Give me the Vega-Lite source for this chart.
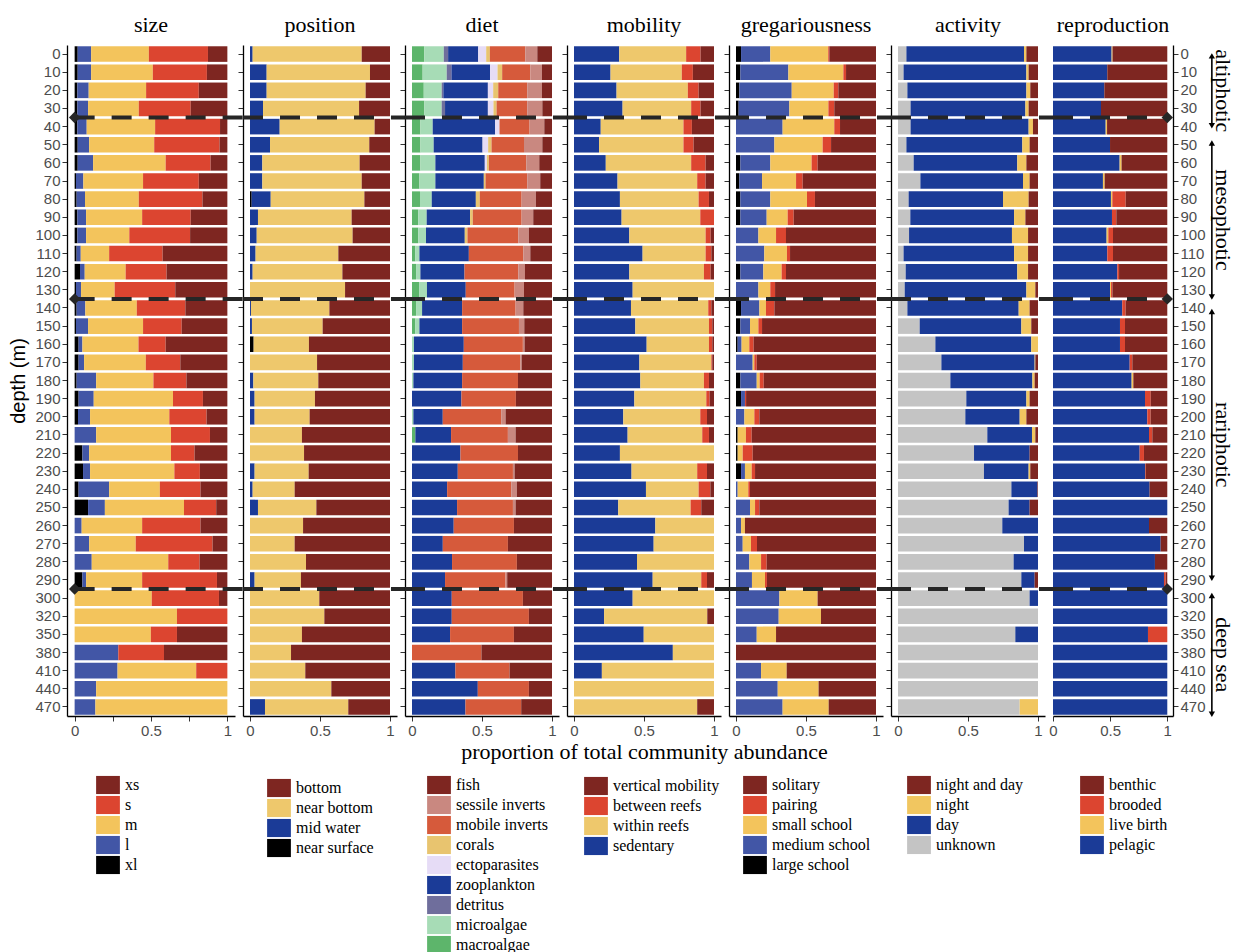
{
"$schema": "https://vega.github.io/schema/vega-lite/v6.json",
"background": "white",
"padding": {"left": 8, "top": 14, "right": 4, "bottom": 0},
"bounds": "flush",
"spacing": 8,
"resolve": {"scale": {"color": "independent"}, "legend": {"color": "independent"}},
"config": {
 "view": {"stroke": null},
 "font": "Liberation Serif",
 "axis": {"grid": false, "domainColor": "#000", "domainWidth": 1.3, "tickColor": "#333", "tickWidth": 1, "tickSize": 5, "labelFont": "Liberation Sans", "labelFontSize": 15, "labelColor": "#4d4d4d", "labelPadding": 2, "titleFont": "Liberation Serif", "titleFontSize": 22, "titleFontWeight": "normal", "titleColor": "#000"},
 "legend": {"labelFont": "Liberation Serif", "labelFontSize": 16, "labelColor": "#000", "symbolType": "M-1.22,-0.93H1.22V0.93H-1.22Z", "symbolSize": 380, "symbolStrokeWidth": 0, "symbolOpacity": 1, "rowPadding": -0.3, "labelOffset": 7, "padding": 0},
 "title": {"font": "Liberation Serif", "fontSize": 22, "fontWeight": "normal", "color": "#000", "anchor": "middle", "offset": 8}
},
"datasets": {
 "bounds": [{"b": 3.5}, {"b": 13.5}, {"b": 29.5}],
 "zones": [{"zone": "altiphotic", "from": 0.1, "to": 3.95}, {"zone": "mesophotic", "from": 4.9, "to": 13.4}, {"zone": "rariphotic", "from": 14.2, "to": 28.9}, {"zone": "deep sea", "from": 29.85, "to": 36.4}],
 "size": [
  {"d":0,"xl":0.02,"l":0.088,"m":0.378,"s":0.387,"xs":0.127},
  {"d":10,"xl":0.02,"l":0.088,"m":0.404,"s":0.354,"xs":0.134},
  {"d":20,"xl":0.018,"l":0.074,"m":0.376,"s":0.345,"xs":0.187},
  {"d":30,"xl":0.018,"l":0.07,"m":0.332,"s":0.34,"xs":0.24},
  {"d":40,"xl":0.018,"l":0.061,"m":0.448,"s":0.425,"xs":0.048},
  {"d":50,"xl":0.02,"l":0.075,"m":0.426,"s":0.428,"xs":0.051},
  {"d":60,"xl":0.02,"l":0.101,"m":0.475,"s":0.294,"xs":0.11},
  {"d":70,"xl":0.009,"l":0.048,"m":0.391,"s":0.365,"xs":0.187},
  {"d":80,"xl":0.013,"l":0.055,"m":0.352,"s":0.417,"xs":0.163},
  {"d":90,"xl":0.018,"l":0.057,"m":0.367,"s":0.318,"xs":0.24},
  {"d":100,"xl":0.018,"l":0.057,"m":0.283,"s":0.398,"xs":0.244},
  {"d":110,"xl":0.013,"l":0.027,"m":0.186,"s":0.35,"xs":0.424},
  {"d":120,"xl":0.035,"l":0.031,"m":0.268,"s":0.268,"xs":0.398},
  {"d":130,"xl":0.009,"l":0.033,"m":0.22,"s":0.397,"xs":0.341},
  {"d":140,"xl":0.013,"l":0.057,"m":0.337,"s":0.318,"xs":0.275},
  {"d":150,"xl":0.009,"l":0.079,"m":0.36,"s":0.253,"xs":0.299},
  {"d":160,"xl":0.026,"l":0.025,"m":0.367,"s":0.178,"xs":0.404},
  {"d":170,"xl":0.026,"l":0.036,"m":0.404,"s":0.226,"xs":0.308},
  {"d":180,"xl":0.013,"l":0.128,"m":0.375,"s":0.216,"xs":0.268},
  {"d":190,"xl":0.026,"l":0.099,"m":0.519,"s":0.196,"xs":0.16},
  {"d":200,"xl":0.022,"l":0.079,"m":0.519,"s":0.244,"xs":0.136},
  {"d":210,"xl":0,"l":0.141,"m":0.49,"s":0.255,"xs":0.114},
  {"d":220,"xl":0.051,"l":0.044,"m":0.536,"s":0.154,"xs":0.215},
  {"d":230,"xl":0.055,"l":0.046,"m":0.552,"s":0.167,"xs":0.18},
  {"d":240,"xl":0.026,"l":0.2,"m":0.332,"s":0.266,"xs":0.176},
  {"d":250,"xl":0.088,"l":0.11,"m":0.518,"s":0.211,"xs":0.073},
  {"d":260,"xl":0,"l":0.046,"m":0.396,"s":0.382,"xs":0.176},
  {"d":270,"xl":0,"l":0.095,"m":0.305,"s":0.503,"xs":0.097},
  {"d":280,"xl":0,"l":0.112,"m":0.501,"s":0.205,"xs":0.182},
  {"d":290,"xl":0.051,"l":0.024,"m":0.367,"s":0.49,"xs":0.068},
  {"d":300,"xl":0,"l":0,"m":0.505,"s":0.44,"xs":0.055},
  {"d":320,"xl":0,"l":0,"m":0.67,"s":0.33,"xs":0},
  {"d":350,"xl":0,"l":0,"m":0.499,"s":0.171,"xs":0.33},
  {"d":380,"xl":0,"l":0.286,"m":0,"s":0.299,"xs":0.415},
  {"d":410,"xl":0,"l":0.281,"m":0.515,"s":0.204,"xs":0},
  {"d":440,"xl":0,"l":0.141,"m":0.859,"s":0,"xs":0},
  {"d":470,"xl":0,"l":0.136,"m":0.864,"s":0,"xs":0}
 ],
 "position": [
  {"d":0,"near surface":0,"mid water":0.019,"near bottom":0.779,"bottom":0.202},
  {"d":10,"near surface":0,"mid water":0.119,"near bottom":0.738,"bottom":0.143},
  {"d":20,"near surface":0,"mid water":0.119,"near bottom":0.707,"bottom":0.174},
  {"d":30,"near surface":0,"mid water":0.093,"near bottom":0.686,"bottom":0.221},
  {"d":40,"near surface":0,"mid water":0.212,"near bottom":0.678,"bottom":0.11},
  {"d":50,"near surface":0,"mid water":0.143,"near bottom":0.709,"bottom":0.148},
  {"d":60,"near surface":0,"mid water":0.088,"near bottom":0.695,"bottom":0.217},
  {"d":70,"near surface":0,"mid water":0.088,"near bottom":0.71,"bottom":0.202},
  {"d":80,"near surface":0.012,"mid water":0.136,"near bottom":0.669,"bottom":0.183},
  {"d":90,"near surface":0,"mid water":0.057,"near bottom":0.669,"bottom":0.274},
  {"d":100,"near surface":0,"mid water":0.048,"near bottom":0.685,"bottom":0.267},
  {"d":110,"near surface":0,"mid water":0.04,"near bottom":0.591,"bottom":0.369},
  {"d":120,"near surface":0,"mid water":0.019,"near bottom":0.641,"bottom":0.34},
  {"d":130,"near surface":0,"mid water":0,"near bottom":0.679,"bottom":0.321},
  {"d":140,"near surface":0,"mid water":0.007,"near bottom":0.56,"bottom":0.433},
  {"d":150,"near surface":0,"mid water":0.014,"near bottom":0.505,"bottom":0.481},
  {"d":160,"near surface":0.026,"mid water":0,"near bottom":0.395,"bottom":0.579},
  {"d":170,"near surface":0,"mid water":0,"near bottom":0.479,"bottom":0.521},
  {"d":180,"near surface":0,"mid water":0.024,"near bottom":0.464,"bottom":0.512},
  {"d":190,"near surface":0,"mid water":0.033,"near bottom":0.431,"bottom":0.536},
  {"d":200,"near surface":0,"mid water":0.033,"near bottom":0.393,"bottom":0.574},
  {"d":210,"near surface":0,"mid water":0,"near bottom":0.371,"bottom":0.629},
  {"d":220,"near surface":0,"mid water":0,"near bottom":0.386,"bottom":0.614},
  {"d":230,"near surface":0,"mid water":0.033,"near bottom":0.386,"bottom":0.581},
  {"d":240,"near surface":0,"mid water":0.019,"near bottom":0.3,"bottom":0.681},
  {"d":250,"near surface":0,"mid water":0.057,"near bottom":0.417,"bottom":0.526},
  {"d":260,"near surface":0,"mid water":0,"near bottom":0.379,"bottom":0.621},
  {"d":270,"near surface":0,"mid water":0,"near bottom":0.319,"bottom":0.681},
  {"d":280,"near surface":0,"mid water":0,"near bottom":0.4,"bottom":0.6},
  {"d":290,"near surface":0,"mid water":0.033,"near bottom":0.331,"bottom":0.636},
  {"d":300,"near surface":0,"mid water":0,"near bottom":0.495,"bottom":0.505},
  {"d":320,"near surface":0,"mid water":0,"near bottom":0.531,"bottom":0.469},
  {"d":350,"near surface":0,"mid water":0,"near bottom":0.371,"bottom":0.629},
  {"d":380,"near surface":0,"mid water":0,"near bottom":0.293,"bottom":0.707},
  {"d":410,"near surface":0,"mid water":0,"near bottom":0.395,"bottom":0.605},
  {"d":440,"near surface":0,"mid water":0,"near bottom":0.581,"bottom":0.419},
  {"d":470,"near surface":0,"mid water":0.107,"near bottom":0.595,"bottom":0.298}
 ],
 "diet": [
  {"d":0,"macroalgae":0.088,"microalgae":0.139,"detritus":0.031,"zooplankton":0.215,"ectoparasites":0.057,"corals":0.026,"mobile inverts":0.253,"sessile inverts":0.086,"fish":0.105},
  {"d":10,"macroalgae":0.076,"microalgae":0.172,"detritus":0.034,"zooplankton":0.276,"ectoparasites":0.053,"corals":0.033,"mobile inverts":0.201,"sessile inverts":0.083,"fish":0.072},
  {"d":20,"macroalgae":0.084,"microalgae":0.128,"detritus":0.012,"zooplankton":0.318,"ectoparasites":0.038,"corals":0.036,"mobile inverts":0.207,"sessile inverts":0.105,"fish":0.072},
  {"d":30,"macroalgae":0.088,"microalgae":0.124,"detritus":0.024,"zooplankton":0.306,"ectoparasites":0.04,"corals":0.022,"mobile inverts":0.219,"sessile inverts":0.108,"fish":0.069},
  {"d":40,"macroalgae":0.06,"microalgae":0.088,"detritus":0,"zooplankton":0.446,"ectoparasites":0.031,"corals":0,"mobile inverts":0.215,"sessile inverts":0.105,"fish":0.055},
  {"d":50,"macroalgae":0.06,"microalgae":0.095,"detritus":0,"zooplankton":0.349,"ectoparasites":0.04,"corals":0.024,"mobile inverts":0.232,"sessile inverts":0.131,"fish":0.069},
  {"d":60,"macroalgae":0.06,"microalgae":0.107,"detritus":0,"zooplankton":0.353,"ectoparasites":0.015,"corals":0.014,"mobile inverts":0.267,"sessile inverts":0.093,"fish":0.091},
  {"d":70,"macroalgae":0.053,"microalgae":0.114,"detritus":0,"zooplankton":0.346,"ectoparasites":0,"corals":0.012,"mobile inverts":0.298,"sessile inverts":0.093,"fish":0.084},
  {"d":80,"macroalgae":0.057,"microalgae":0.084,"detritus":0,"zooplankton":0.315,"ectoparasites":0,"corals":0.028,"mobile inverts":0.299,"sessile inverts":0.102,"fish":0.115},
  {"d":90,"macroalgae":0.045,"microalgae":0.06,"detritus":0,"zooplankton":0.31,"ectoparasites":0,"corals":0.019,"mobile inverts":0.349,"sessile inverts":0.083,"fish":0.134},
  {"d":100,"macroalgae":0.045,"microalgae":0.055,"detritus":0,"zooplankton":0.277,"ectoparasites":0,"corals":0.019,"mobile inverts":0.363,"sessile inverts":0.076,"fish":0.165},
  {"d":110,"macroalgae":0.024,"microalgae":0.029,"detritus":0,"zooplankton":0.353,"ectoparasites":0,"corals":0,"mobile inverts":0.389,"sessile inverts":0.05,"fish":0.155},
  {"d":120,"macroalgae":0.029,"microalgae":0.031,"detritus":0,"zooplankton":0.315,"ectoparasites":0,"corals":0,"mobile inverts":0.384,"sessile inverts":0.048,"fish":0.193},
  {"d":130,"macroalgae":0.053,"microalgae":0.054,"detritus":0,"zooplankton":0.277,"ectoparasites":0,"corals":0,"mobile inverts":0.349,"sessile inverts":0.067,"fish":0.2},
  {"d":140,"macroalgae":0.029,"microalgae":0.043,"detritus":0,"zooplankton":0.286,"ectoparasites":0,"corals":0,"mobile inverts":0.382,"sessile inverts":0.055,"fish":0.205},
  {"d":150,"macroalgae":0.024,"microalgae":0.029,"detritus":0,"zooplankton":0.305,"ectoparasites":0,"corals":0,"mobile inverts":0.406,"sessile inverts":0.038,"fish":0.198},
  {"d":160,"macroalgae":0,"microalgae":0.014,"detritus":0,"zooplankton":0.356,"ectoparasites":0,"corals":0,"mobile inverts":0.422,"sessile inverts":0.012,"fish":0.196},
  {"d":170,"macroalgae":0,"microalgae":0.014,"detritus":0,"zooplankton":0.349,"ectoparasites":0,"corals":0,"mobile inverts":0.41,"sessile inverts":0.01,"fish":0.217},
  {"d":180,"macroalgae":0,"microalgae":0.01,"detritus":0,"zooplankton":0.348,"ectoparasites":0,"corals":0,"mobile inverts":0.399,"sessile inverts":0,"fish":0.243},
  {"d":190,"macroalgae":0,"microalgae":0,"detritus":0,"zooplankton":0.353,"ectoparasites":0,"corals":0,"mobile inverts":0.389,"sessile inverts":0,"fish":0.258},
  {"d":200,"macroalgae":0,"microalgae":0.01,"detritus":0,"zooplankton":0.21,"ectoparasites":0,"corals":0,"mobile inverts":0.418,"sessile inverts":0.031,"fish":0.332},
  {"d":210,"macroalgae":0.024,"microalgae":0,"detritus":0,"zooplankton":0.255,"ectoparasites":0,"corals":0,"mobile inverts":0.406,"sessile inverts":0.055,"fish":0.26},
  {"d":220,"macroalgae":0,"microalgae":0,"detritus":0,"zooplankton":0.346,"ectoparasites":0,"corals":0,"mobile inverts":0.411,"sessile inverts":0,"fish":0.243},
  {"d":230,"macroalgae":0,"microalgae":0,"detritus":0,"zooplankton":0.327,"ectoparasites":0,"corals":0,"mobile inverts":0.394,"sessile inverts":0.012,"fish":0.267},
  {"d":240,"macroalgae":0,"microalgae":0,"detritus":0,"zooplankton":0.251,"ectoparasites":0,"corals":0,"mobile inverts":0.458,"sessile inverts":0.04,"fish":0.251},
  {"d":250,"macroalgae":0,"microalgae":0,"detritus":0,"zooplankton":0.322,"ectoparasites":0,"corals":0,"mobile inverts":0.399,"sessile inverts":0.019,"fish":0.26},
  {"d":260,"macroalgae":0,"microalgae":0,"detritus":0,"zooplankton":0.298,"ectoparasites":0,"corals":0,"mobile inverts":0.43,"sessile inverts":0,"fish":0.272},
  {"d":270,"macroalgae":0,"microalgae":0,"detritus":0,"zooplankton":0.22,"ectoparasites":0,"corals":0,"mobile inverts":0.465,"sessile inverts":0,"fish":0.315},
  {"d":280,"macroalgae":0,"microalgae":0,"detritus":0,"zooplankton":0.286,"ectoparasites":0,"corals":0,"mobile inverts":0.463,"sessile inverts":0,"fish":0.251},
  {"d":290,"macroalgae":0,"microalgae":0,"detritus":0,"zooplankton":0.236,"ectoparasites":0,"corals":0,"mobile inverts":0.432,"sessile inverts":0.012,"fish":0.32},
  {"d":300,"macroalgae":0,"microalgae":0,"detritus":0,"zooplankton":0.284,"ectoparasites":0,"corals":0,"mobile inverts":0.508,"sessile inverts":0,"fish":0.208},
  {"d":320,"macroalgae":0,"microalgae":0,"detritus":0,"zooplankton":0.284,"ectoparasites":0,"corals":0,"mobile inverts":0.551,"sessile inverts":0,"fish":0.165},
  {"d":350,"macroalgae":0,"microalgae":0,"detritus":0,"zooplankton":0.272,"ectoparasites":0,"corals":0,"mobile inverts":0.456,"sessile inverts":0,"fish":0.272},
  {"d":380,"macroalgae":0,"microalgae":0,"detritus":0,"zooplankton":0,"ectoparasites":0,"corals":0,"mobile inverts":0.496,"sessile inverts":0,"fish":0.504},
  {"d":410,"macroalgae":0,"microalgae":0,"detritus":0,"zooplankton":0.31,"ectoparasites":0,"corals":0,"mobile inverts":0.387,"sessile inverts":0,"fish":0.303},
  {"d":440,"macroalgae":0,"microalgae":0,"detritus":0,"zooplankton":0.47,"ectoparasites":0,"corals":0,"mobile inverts":0.365,"sessile inverts":0,"fish":0.165},
  {"d":470,"macroalgae":0,"microalgae":0,"detritus":0,"zooplankton":0.382,"ectoparasites":0,"corals":0,"mobile inverts":0.398,"sessile inverts":0,"fish":0.22}
 ],
 "mobility": [
  {"d":0,"sedentary":0.323,"within reefs":0.478,"between reefs":0.103,"vertical mobility":0.096},
  {"d":10,"sedentary":0.261,"within reefs":0.509,"between reefs":0.079,"vertical mobility":0.151},
  {"d":20,"sedentary":0.304,"within reefs":0.509,"between reefs":0.077,"vertical mobility":0.11},
  {"d":30,"sedentary":0.347,"within reefs":0.49,"between reefs":0.067,"vertical mobility":0.096},
  {"d":40,"sedentary":0.191,"within reefs":0.591,"between reefs":0.06,"vertical mobility":0.158},
  {"d":50,"sedentary":0.179,"within reefs":0.603,"between reefs":0.072,"vertical mobility":0.146},
  {"d":60,"sedentary":0.227,"within reefs":0.61,"between reefs":0.103,"vertical mobility":0.06},
  {"d":70,"sedentary":0.311,"within reefs":0.569,"between reefs":0.06,"vertical mobility":0.06},
  {"d":80,"sedentary":0.328,"within reefs":0.562,"between reefs":0.074,"vertical mobility":0.036},
  {"d":90,"sedentary":0.34,"within reefs":0.562,"between reefs":0.098,"vertical mobility":0},
  {"d":100,"sedentary":0.395,"within reefs":0.545,"between reefs":0.036,"vertical mobility":0.024},
  {"d":110,"sedentary":0.49,"within reefs":0.45,"between reefs":0.041,"vertical mobility":0.019},
  {"d":120,"sedentary":0.395,"within reefs":0.533,"between reefs":0.048,"vertical mobility":0.024},
  {"d":130,"sedentary":0.419,"within reefs":0.581,"between reefs":0,"vertical mobility":0},
  {"d":140,"sedentary":0.407,"within reefs":0.552,"between reefs":0.022,"vertical mobility":0.019},
  {"d":150,"sedentary":0.438,"within reefs":0.526,"between reefs":0.024,"vertical mobility":0.012},
  {"d":160,"sedentary":0.519,"within reefs":0.445,"between reefs":0.024,"vertical mobility":0.012},
  {"d":170,"sedentary":0.467,"within reefs":0.514,"between reefs":0.007,"vertical mobility":0.012},
  {"d":180,"sedentary":0.474,"within reefs":0.454,"between reefs":0.036,"vertical mobility":0.036},
  {"d":190,"sedentary":0.431,"within reefs":0.514,"between reefs":0.024,"vertical mobility":0.031},
  {"d":200,"sedentary":0.352,"within reefs":0.55,"between reefs":0.048,"vertical mobility":0.05},
  {"d":210,"sedentary":0.383,"within reefs":0.533,"between reefs":0.048,"vertical mobility":0.036},
  {"d":220,"sedentary":0.328,"within reefs":0.672,"between reefs":0,"vertical mobility":0},
  {"d":230,"sedentary":0.411,"within reefs":0.469,"between reefs":0.07,"vertical mobility":0.05},
  {"d":240,"sedentary":0.514,"within reefs":0.376,"between reefs":0.084,"vertical mobility":0.026},
  {"d":250,"sedentary":0.316,"within reefs":0.517,"between reefs":0.076,"vertical mobility":0.091},
  {"d":260,"sedentary":0.581,"within reefs":0.419,"between reefs":0,"vertical mobility":0},
  {"d":270,"sedentary":0.569,"within reefs":0.431,"between reefs":0,"vertical mobility":0},
  {"d":280,"sedentary":0.45,"within reefs":0.55,"between reefs":0,"vertical mobility":0},
  {"d":290,"sedentary":0.562,"within reefs":0.347,"between reefs":0.041,"vertical mobility":0.05},
  {"d":300,"sedentary":0.419,"within reefs":0.581,"between reefs":0,"vertical mobility":0},
  {"d":320,"sedentary":0.215,"within reefs":0.737,"between reefs":0,"vertical mobility":0.048},
  {"d":350,"sedentary":0.498,"within reefs":0.502,"between reefs":0,"vertical mobility":0},
  {"d":380,"sedentary":0.706,"within reefs":0.294,"between reefs":0,"vertical mobility":0},
  {"d":410,"sedentary":0.199,"within reefs":0.801,"between reefs":0,"vertical mobility":0},
  {"d":440,"sedentary":0,"within reefs":1,"between reefs":0,"vertical mobility":0},
  {"d":470,"sedentary":0,"within reefs":0.88,"between reefs":0,"vertical mobility":0.12}
 ],
 "greg": [
  {"d":0,"large school":0.036,"medium school":0.209,"small school":0.414,"pairing":0.008,"solitary":0.333},
  {"d":10,"large school":0.031,"medium school":0.343,"small school":0.393,"pairing":0.019,"solitary":0.214},
  {"d":20,"large school":0.024,"medium school":0.374,"small school":0.3,"pairing":0.033,"solitary":0.269},
  {"d":30,"large school":0.019,"medium school":0.362,"small school":0.279,"pairing":0.042,"solitary":0.298},
  {"d":40,"large school":0,"medium school":0.333,"small school":0.369,"pairing":0.041,"solitary":0.257},
  {"d":50,"large school":0,"medium school":0.274,"small school":0.345,"pairing":0.06,"solitary":0.321},
  {"d":60,"large school":0.031,"medium school":0.214,"small school":0.295,"pairing":0.043,"solitary":0.417},
  {"d":70,"large school":0.024,"medium school":0.162,"small school":0.243,"pairing":0.047,"solitary":0.524},
  {"d":80,"large school":0.031,"medium school":0.214,"small school":0.262,"pairing":0.057,"solitary":0.436},
  {"d":90,"large school":0.031,"medium school":0.188,"small school":0.15,"pairing":0.043,"solitary":0.588},
  {"d":100,"large school":0,"medium school":0.16,"small school":0.126,"pairing":0.071,"solitary":0.643},
  {"d":110,"large school":0,"medium school":0.202,"small school":0.162,"pairing":0.022,"solitary":0.614},
  {"d":120,"large school":0.031,"medium school":0.164,"small school":0.131,"pairing":0.031,"solitary":0.643},
  {"d":130,"large school":0,"medium school":0.16,"small school":0.085,"pairing":0.034,"solitary":0.721},
  {"d":140,"large school":0.036,"medium school":0.131,"small school":0.047,"pairing":0.06,"solitary":0.726},
  {"d":150,"large school":0.031,"medium school":0.069,"small school":0.06,"pairing":0.026,"solitary":0.814},
  {"d":160,"large school":0.012,"medium school":0.028,"small school":0.055,"pairing":0.031,"solitary":0.874},
  {"d":170,"large school":0,"medium school":0.119,"small school":0.012,"pairing":0.017,"solitary":0.852},
  {"d":180,"large school":0.031,"medium school":0.117,"small school":0.021,"pairing":0.029,"solitary":0.802},
  {"d":190,"large school":0.036,"medium school":0.028,"small school":0,"pairing":0.008,"solitary":0.928},
  {"d":200,"large school":0,"medium school":0.06,"small school":0.071,"pairing":0.036,"solitary":0.833},
  {"d":210,"large school":0.012,"medium school":0,"small school":0.059,"pairing":0.041,"solitary":0.888},
  {"d":220,"large school":0.012,"medium school":0,"small school":0.036,"pairing":0.071,"solitary":0.881},
  {"d":230,"large school":0.036,"medium school":0.028,"small school":0.048,"pairing":0.024,"solitary":0.864},
  {"d":240,"large school":0,"medium school":0.012,"small school":0.076,"pairing":0.012,"solitary":0.9},
  {"d":250,"large school":0,"medium school":0.1,"small school":0.036,"pairing":0.031,"solitary":0.833},
  {"d":260,"large school":0,"medium school":0.036,"small school":0.028,"pairing":0,"solitary":0.936},
  {"d":270,"large school":0,"medium school":0.048,"small school":0.059,"pairing":0.043,"solitary":0.85},
  {"d":280,"large school":0,"medium school":0.095,"small school":0.084,"pairing":0.04,"solitary":0.781},
  {"d":290,"large school":0,"medium school":0.114,"small school":0.093,"pairing":0.014,"solitary":0.779},
  {"d":300,"large school":0,"medium school":0.31,"small school":0.273,"pairing":0,"solitary":0.417},
  {"d":320,"large school":0,"medium school":0.305,"small school":0.302,"pairing":0,"solitary":0.393},
  {"d":350,"large school":0,"medium school":0.148,"small school":0.138,"pairing":0,"solitary":0.714},
  {"d":380,"large school":0,"medium school":0,"small school":0,"pairing":0,"solitary":1},
  {"d":410,"large school":0,"medium school":0.179,"small school":0.183,"pairing":0,"solitary":0.638},
  {"d":440,"large school":0,"medium school":0.298,"small school":0.292,"pairing":0,"solitary":0.41},
  {"d":470,"large school":0,"medium school":0.333,"small school":0.329,"pairing":0,"solitary":0.338}
 ],
 "activity": [
  {"d":0,"unknown":0.06,"day":0.84,"night":0.017,"night and day":0.083},
  {"d":10,"unknown":0.04,"day":0.877,"night":0.016,"night and day":0.067},
  {"d":20,"unknown":0.067,"day":0.85,"night":0.028,"night and day":0.055},
  {"d":30,"unknown":0.09,"day":0.82,"night":0.023,"night and day":0.067},
  {"d":40,"unknown":0.09,"day":0.843,"night":0.031,"night and day":0.036},
  {"d":50,"unknown":0.06,"day":0.828,"night":0.052,"night and day":0.06},
  {"d":60,"unknown":0.112,"day":0.74,"night":0.065,"night and day":0.083},
  {"d":70,"unknown":0.16,"day":0.733,"night":0.047,"night and day":0.06},
  {"d":80,"unknown":0.076,"day":0.674,"night":0.183,"night and day":0.067},
  {"d":90,"unknown":0.088,"day":0.741,"night":0.081,"night and day":0.09},
  {"d":100,"unknown":0.079,"day":0.735,"night":0.115,"night and day":0.071},
  {"d":110,"unknown":0.04,"day":0.789,"night":0.1,"night and day":0.071},
  {"d":120,"unknown":0.055,"day":0.797,"night":0.077,"night and day":0.071},
  {"d":130,"unknown":0.048,"day":0.869,"night":0.064,"night and day":0.019},
  {"d":140,"unknown":0.067,"day":0.795,"night":0.078,"night and day":0.06},
  {"d":150,"unknown":0.155,"day":0.726,"night":0.071,"night and day":0.048},
  {"d":160,"unknown":0.267,"day":0.685,"night":0.048,"night and day":0},
  {"d":170,"unknown":0.31,"day":0.666,"night":0.005,"night and day":0.019},
  {"d":180,"unknown":0.374,"day":0.586,"night":0.016,"night and day":0.024},
  {"d":190,"unknown":0.488,"day":0.429,"night":0.023,"night and day":0.06},
  {"d":200,"unknown":0.481,"day":0.388,"night":0.048,"night and day":0.083},
  {"d":210,"unknown":0.638,"day":0.319,"night":0.024,"night and day":0.019},
  {"d":220,"unknown":0.543,"day":0.397,"night":0,"night and day":0.06},
  {"d":230,"unknown":0.614,"day":0.319,"night":0.012,"night and day":0.055},
  {"d":240,"unknown":0.81,"day":0.186,"night":0,"night and day":0.004},
  {"d":250,"unknown":0.79,"day":0.15,"night":0,"night and day":0.06},
  {"d":260,"unknown":0.745,"day":0.255,"night":0,"night and day":0},
  {"d":270,"unknown":0.9,"day":0.1,"night":0,"night and day":0},
  {"d":280,"unknown":0.826,"day":0.174,"night":0,"night and day":0},
  {"d":290,"unknown":0.881,"day":0.095,"night":0,"night and day":0.024},
  {"d":300,"unknown":0.94,"day":0.06,"night":0,"night and day":0},
  {"d":320,"unknown":1,"day":0,"night":0,"night and day":0},
  {"d":350,"unknown":0.838,"day":0.162,"night":0,"night and day":0},
  {"d":380,"unknown":1,"day":0,"night":0,"night and day":0},
  {"d":410,"unknown":1,"day":0,"night":0,"night and day":0},
  {"d":440,"unknown":1,"day":0,"night":0,"night and day":0},
  {"d":470,"unknown":0.869,"day":0,"night":0.131,"night and day":0}
 ],
 "repro": [
  {"d":0,"pelagic":0.513,"live birth":0.008,"brooded":0,"benthic":0.479},
  {"d":10,"pelagic":0.475,"live birth":0,"brooded":0,"benthic":0.525},
  {"d":20,"pelagic":0.449,"live birth":0,"brooded":0,"benthic":0.551},
  {"d":30,"pelagic":0.42,"live birth":0,"brooded":0,"benthic":0.58},
  {"d":40,"pelagic":0.461,"live birth":0.012,"brooded":0,"benthic":0.527},
  {"d":50,"pelagic":0.499,"live birth":0,"brooded":0,"benthic":0.501},
  {"d":60,"pelagic":0.583,"live birth":0.017,"brooded":0,"benthic":0.4},
  {"d":70,"pelagic":0.437,"live birth":0.015,"brooded":0,"benthic":0.548},
  {"d":80,"pelagic":0.507,"live birth":0.012,"brooded":0.117,"benthic":0.364},
  {"d":90,"pelagic":0.516,"live birth":0,"brooded":0.038,"benthic":0.446},
  {"d":100,"pelagic":0.469,"live birth":0.015,"brooded":0.041,"benthic":0.475},
  {"d":110,"pelagic":0.475,"live birth":0,"brooded":0.05,"benthic":0.475},
  {"d":120,"pelagic":0.563,"live birth":0,"brooded":0.015,"benthic":0.422},
  {"d":130,"pelagic":0.499,"live birth":0.009,"brooded":0.012,"benthic":0.48},
  {"d":140,"pelagic":0.606,"live birth":0,"brooded":0.029,"benthic":0.365},
  {"d":150,"pelagic":0.586,"live birth":0,"brooded":0.044,"benthic":0.37},
  {"d":160,"pelagic":0.586,"live birth":0,"brooded":0.044,"benthic":0.37},
  {"d":170,"pelagic":0.671,"live birth":0,"brooded":0.023,"benthic":0.306},
  {"d":180,"pelagic":0.688,"live birth":0.015,"brooded":0,"benthic":0.297},
  {"d":190,"pelagic":0.805,"live birth":0,"brooded":0.05,"benthic":0.145},
  {"d":200,"pelagic":0.825,"live birth":0,"brooded":0.029,"benthic":0.146},
  {"d":210,"pelagic":0.84,"live birth":0,"brooded":0.029,"benthic":0.131},
  {"d":220,"pelagic":0.758,"live birth":0,"brooded":0.038,"benthic":0.204},
  {"d":230,"pelagic":0.805,"live birth":0,"brooded":0.006,"benthic":0.189},
  {"d":240,"pelagic":0.845,"live birth":0,"brooded":0,"benthic":0.155},
  {"d":250,"pelagic":1,"live birth":0,"brooded":0,"benthic":0},
  {"d":260,"pelagic":0.84,"live birth":0,"brooded":0,"benthic":0.16},
  {"d":270,"pelagic":0.942,"live birth":0,"brooded":0,"benthic":0.058},
  {"d":280,"pelagic":0.892,"live birth":0,"brooded":0,"benthic":0.108},
  {"d":290,"pelagic":0.971,"live birth":0,"brooded":0.015,"benthic":0.014},
  {"d":300,"pelagic":1,"live birth":0,"brooded":0,"benthic":0},
  {"d":320,"pelagic":1,"live birth":0,"brooded":0,"benthic":0},
  {"d":350,"pelagic":0.831,"live birth":0,"brooded":0.169,"benthic":0},
  {"d":380,"pelagic":1,"live birth":0,"brooded":0,"benthic":0},
  {"d":410,"pelagic":1,"live birth":0,"brooded":0,"benthic":0},
  {"d":440,"pelagic":1,"live birth":0,"brooded":0,"benthic":0},
  {"d":470,"pelagic":1,"live birth":0,"brooded":0,"benthic":0}
 ]
},
"hconcat": [
 {
  "width": 168, "height": 671, "title": {"text": "size"},
  "resolve": {"scale": {"y": "independent"}},
  "layer": [
   {"data": {"name": "size"},
    "transform": [{"fold": ["xl","l","m","s","xs"], "as": ["k","v"]}, {"window": [{"op": "row_number", "as": "o"}], "groupby": ["d"]}],
    "mark": "bar",
    "encoding": {
     "y": {"field": "d", "type": "ordinal", "scale": {"domain": [0,10,20,30,40,50,60,70,80,90,100,110,120,130,140,150,160,170,180,190,200,210,220,230,240,250,260,270,280,290,300,320,350,380,410,440,470], "paddingInner": 0.14, "paddingOuter": 0.07}, "axis": {"title": "depth (m)", "titleFont": "Liberation Sans", "titleFontSize": 20, "titlePadding": 6}},
     "x": {"field": "v", "type": "quantitative", "stack": "normalize", "scale": {"domain": [-0.05, 1.05], "nice": false}, "axis": {"values": [0,0.25,0.5,0.75,1], "labelExpr": "datum.value==0.25||datum.value==0.75?'':format(datum.value,'~g')", "title": null, "labelFlush": false}},
     "color": {"field": "k", "type": "nominal", "scale": {"domain": ["xs","s","m","l","xl"], "range": ["#7e2621","#dc4530","#f3c45c","#4256a6","#000000"]}, "legend": {"orient": "none", "legendX": 31, "legendY": 730, "title": null}},
     "order": {"field": "o", "type": "quantitative"}
    }},
   {"data": {"name": "bounds"},
    "mark": {"type": "rule", "strokeDash": [20, 17], "strokeWidth": 4, "color": "#262626"},
    "encoding": {"y": {"field": "b", "type": "quantitative", "scale": {"domain": [-0.5, 36.5], "reverse": true, "nice": false, "zero": false}, "axis": null}, "x": {"datum": 0}, "x2": {"datum": 1.11}}},
   {"data": {"name": "bounds"},
    "mark": {"type": "point", "shape": "diamond", "filled": true, "size": 130, "color": "#262626", "opacity": 1},
    "encoding": {"y": {"field": "b", "type": "quantitative", "scale": {"domain": [-0.5, 36.5], "reverse": true, "nice": false, "zero": false}, "axis": null}, "x": {"datum": 0}}}
  ]
 },
 {
  "width": 154, "height": 671, "title": {"text": "position"},
  "resolve": {"scale": {"y": "independent"}},
  "layer": [
   {"data": {"name": "position"},
    "transform": [{"fold": ["near surface","mid water","near bottom","bottom"], "as": ["k","v"]}, {"window": [{"op": "row_number", "as": "o"}], "groupby": ["d"]}],
    "mark": "bar",
    "encoding": {
     "y": {"field": "d", "type": "ordinal", "scale": {"domain": [0,10,20,30,40,50,60,70,80,90,100,110,120,130,140,150,160,170,180,190,200,210,220,230,240,250,260,270,280,290,300,320,350,380,410,440,470], "paddingInner": 0.14, "paddingOuter": 0.07}, "axis": {"labels": false, "title": null}},
     "x": {"field": "v", "type": "quantitative", "stack": "normalize", "scale": {"domain": [-0.05, 1.05], "nice": false}, "axis": {"values": [0,0.25,0.5,0.75,1], "labelExpr": "datum.value==0.25||datum.value==0.75?'':format(datum.value,'~g')", "title": null, "labelFlush": false}},
     "color": {"field": "k", "type": "nominal", "scale": {"domain": ["bottom","near bottom","mid water","near surface"], "range": ["#7e2621","#eec86c","#1b3b97","#000000"]}, "legend": {"orient": "none", "legendX": 26, "legendY": 733, "title": null}},
     "order": {"field": "o", "type": "quantitative"}
    }},
   {"data": {"name": "bounds"},
    "mark": {"type": "rule", "strokeDash": [20, 17], "strokeWidth": 4, "color": "#262626"},
    "encoding": {"y": {"field": "b", "type": "quantitative", "scale": {"domain": [-0.5, 36.5], "reverse": true, "nice": false, "zero": false}, "axis": null}, "x": {"datum": -0.05}, "x2": {"datum": 1.11}}}
  ]
 },
 {
  "width": 154, "height": 671, "title": {"text": "diet"},
  "resolve": {"scale": {"y": "independent"}},
  "layer": [
   {"data": {"name": "diet"},
    "transform": [{"fold": ["macroalgae","microalgae","detritus","zooplankton","ectoparasites","corals","mobile inverts","sessile inverts","fish"], "as": ["k","v"]}, {"window": [{"op": "row_number", "as": "o"}], "groupby": ["d"]}],
    "mark": "bar",
    "encoding": {
     "y": {"field": "d", "type": "ordinal", "scale": {"domain": [0,10,20,30,40,50,60,70,80,90,100,110,120,130,140,150,160,170,180,190,200,210,220,230,240,250,260,270,280,290,300,320,350,380,410,440,470], "paddingInner": 0.14, "paddingOuter": 0.07}, "axis": {"labels": false, "title": null}},
     "x": {"field": "v", "type": "quantitative", "stack": "normalize", "scale": {"domain": [-0.05, 1.05], "nice": false}, "axis": {"values": [0,0.25,0.5,0.75,1], "labelExpr": "datum.value==0.25||datum.value==0.75?'':format(datum.value,'~g')", "title": null, "labelFlush": false}},
     "color": {"field": "k", "type": "nominal", "scale": {"domain": ["fish","sessile inverts","mobile inverts","corals","ectoparasites","zooplankton","detritus","microalgae","macroalgae"], "range": ["#7e2621","#c98880","#d65a3b","#e8c46f","#e6dcf6","#1b3b97","#6f6e9c","#a7dcb6","#5db56b"]}, "legend": {"orient": "none", "legendX": 24, "legendY": 730, "title": null}},
     "order": {"field": "o", "type": "quantitative"}
    }},
   {"data": {"name": "bounds"},
    "mark": {"type": "rule", "strokeDash": [20, 17], "strokeWidth": 4, "color": "#262626"},
    "encoding": {"y": {"field": "b", "type": "quantitative", "scale": {"domain": [-0.5, 36.5], "reverse": true, "nice": false, "zero": false}, "axis": null}, "x": {"datum": -0.05}, "x2": {"datum": 1.11}}}
  ]
 },
 {
  "width": 154, "height": 671, "title": {"text": "mobility"},
  "resolve": {"scale": {"y": "independent"}},
  "layer": [
   {"data": {"name": "mobility"},
    "transform": [{"fold": ["sedentary","within reefs","between reefs","vertical mobility"], "as": ["k","v"]}, {"window": [{"op": "row_number", "as": "o"}], "groupby": ["d"]}],
    "mark": "bar",
    "encoding": {
     "y": {"field": "d", "type": "ordinal", "scale": {"domain": [0,10,20,30,40,50,60,70,80,90,100,110,120,130,140,150,160,170,180,190,200,210,220,230,240,250,260,270,280,290,300,320,350,380,410,440,470], "paddingInner": 0.14, "paddingOuter": 0.07}, "axis": {"labels": false, "title": null}},
     "x": {"field": "v", "type": "quantitative", "stack": "normalize", "scale": {"domain": [-0.05, 1.05], "nice": false}, "axis": {"values": [0,0.25,0.5,0.75,1], "labelExpr": "datum.value==0.25||datum.value==0.75?'':format(datum.value,'~g')", "title": "proportion of total community abundance", "titlePadding": 3, "labelFlush": false}},
     "color": {"field": "k", "type": "nominal", "scale": {"domain": ["vertical mobility","between reefs","within reefs","sedentary"], "range": ["#7e2621","#dc4530","#eec86c","#1b3b97"]}, "legend": {"orient": "none", "legendX": 19, "legendY": 731, "title": null}},
     "order": {"field": "o", "type": "quantitative"}
    }},
   {"data": {"name": "bounds"},
    "mark": {"type": "rule", "strokeDash": [20, 17], "strokeWidth": 4, "color": "#262626"},
    "encoding": {"y": {"field": "b", "type": "quantitative", "scale": {"domain": [-0.5, 36.5], "reverse": true, "nice": false, "zero": false}, "axis": null}, "x": {"datum": -0.05}, "x2": {"datum": 1.11}}}
  ]
 },
 {
  "width": 154, "height": 671, "title": {"text": "gregariousness"},
  "resolve": {"scale": {"y": "independent"}},
  "layer": [
   {"data": {"name": "greg"},
    "transform": [{"fold": ["large school","medium school","small school","pairing","solitary"], "as": ["k","v"]}, {"window": [{"op": "row_number", "as": "o"}], "groupby": ["d"]}],
    "mark": "bar",
    "encoding": {
     "y": {"field": "d", "type": "ordinal", "scale": {"domain": [0,10,20,30,40,50,60,70,80,90,100,110,120,130,140,150,160,170,180,190,200,210,220,230,240,250,260,270,280,290,300,320,350,380,410,440,470], "paddingInner": 0.14, "paddingOuter": 0.07}, "axis": {"labels": false, "title": null}},
     "x": {"field": "v", "type": "quantitative", "stack": "normalize", "scale": {"domain": [-0.05, 1.05], "nice": false}, "axis": {"values": [0,0.25,0.5,0.75,1], "labelExpr": "datum.value==0.25||datum.value==0.75?'':format(datum.value,'~g')", "title": null, "labelFlush": false}},
     "color": {"field": "k", "type": "nominal", "scale": {"domain": ["solitary","pairing","small school","medium school","large school"], "range": ["#7e2621","#dc4530","#f3c45c","#4256a6","#000000"]}, "legend": {"orient": "none", "legendX": 16, "legendY": 730, "title": null}},
     "order": {"field": "o", "type": "quantitative"}
    }},
   {"data": {"name": "bounds"},
    "mark": {"type": "rule", "strokeDash": [20, 17], "strokeWidth": 4, "color": "#262626"},
    "encoding": {"y": {"field": "b", "type": "quantitative", "scale": {"domain": [-0.5, 36.5], "reverse": true, "nice": false, "zero": false}, "axis": null}, "x": {"datum": -0.05}, "x2": {"datum": 1.11}}}
  ]
 },
 {
  "width": 154, "height": 671, "title": {"text": "activity"},
  "resolve": {"scale": {"y": "independent"}},
  "layer": [
   {"data": {"name": "activity"},
    "transform": [{"fold": ["unknown","day","night","night and day"], "as": ["k","v"]}, {"window": [{"op": "row_number", "as": "o"}], "groupby": ["d"]}],
    "mark": "bar",
    "encoding": {
     "y": {"field": "d", "type": "ordinal", "scale": {"domain": [0,10,20,30,40,50,60,70,80,90,100,110,120,130,140,150,160,170,180,190,200,210,220,230,240,250,260,270,280,290,300,320,350,380,410,440,470], "paddingInner": 0.14, "paddingOuter": 0.07}, "axis": {"labels": false, "title": null}},
     "x": {"field": "v", "type": "quantitative", "stack": "normalize", "scale": {"domain": [-0.05, 1.05], "nice": false}, "axis": {"values": [0,0.25,0.5,0.75,1], "labelExpr": "datum.value==0.25||datum.value==0.75?'':format(datum.value,'~g')", "title": null, "labelFlush": false}},
     "color": {"field": "k", "type": "nominal", "scale": {"domain": ["night and day","night","day","unknown"], "range": ["#7e2621","#f1c660","#1b3b97","#c4c4c4"]}, "legend": {"orient": "none", "legendX": 18, "legendY": 730, "title": null}},
     "order": {"field": "o", "type": "quantitative"}
    }},
   {"data": {"name": "bounds"},
    "mark": {"type": "rule", "strokeDash": [20, 17], "strokeWidth": 4, "color": "#262626"},
    "encoding": {"y": {"field": "b", "type": "quantitative", "scale": {"domain": [-0.5, 36.5], "reverse": true, "nice": false, "zero": false}, "axis": null}, "x": {"datum": -0.05}, "x2": {"datum": 1.11}}}
  ]
 },
 {
  "width": 120, "height": 671, "title": {"text": "reproduction"},
  "resolve": {"scale": {"y": "independent"}},
  "layer": [
   {"data": {"name": "repro"},
    "transform": [{"fold": ["pelagic","live birth","brooded","benthic"], "as": ["k","v"]}, {"window": [{"op": "row_number", "as": "o"}], "groupby": ["d"]}],
    "mark": "bar",
    "encoding": {
     "y": {"field": "d", "type": "ordinal", "scale": {"domain": [0,10,20,30,40,50,60,70,80,90,100,110,120,130,140,150,160,170,180,190,200,210,220,230,240,250,260,270,280,290,300,320,350,380,410,440,470], "paddingInner": 0.14, "paddingOuter": 0.07}, "axis": {"orient": "right", "title": null}},
     "x": {"field": "v", "type": "quantitative", "stack": "normalize", "scale": {"domain": [0, 1.05], "nice": false}, "axis": {"values": [0,0.25,0.5,0.75,1], "labelExpr": "datum.value==0.25||datum.value==0.75?'':format(datum.value,'~g')", "title": null, "labelFlush": false}},
     "color": {"field": "k", "type": "nominal", "scale": {"domain": ["benthic","brooded","live birth","pelagic"], "range": ["#7e2621","#dc4530","#f3c45c","#1b3b97"]}, "legend": {"orient": "none", "legendX": 29, "legendY": 730, "title": null}},
     "order": {"field": "o", "type": "quantitative"}
    }},
   {"data": {"name": "bounds"},
    "mark": {"type": "rule", "strokeDash": [20, 17], "strokeWidth": 4, "color": "#262626"},
    "encoding": {"y": {"field": "b", "type": "quantitative", "scale": {"domain": [-0.5, 36.5], "reverse": true, "nice": false, "zero": false}, "axis": null}, "x": {"datum": 0}, "x2": {"datum": 1}}},
   {"data": {"name": "bounds"},
    "mark": {"type": "point", "shape": "diamond", "filled": true, "size": 130, "color": "#262626", "opacity": 1},
    "encoding": {"y": {"field": "b", "type": "quantitative", "scale": {"domain": [-0.5, 36.5], "reverse": true, "nice": false, "zero": false}, "axis": null}, "x": {"datum": 1}}},
   {"data": {"name": "zones"},
    "mark": {"type": "rule", "strokeWidth": 1.6, "color": "#000"},
    "encoding": {"y": {"field": "from", "type": "quantitative", "scale": {"domain": [-0.5, 36.5], "reverse": true, "nice": false, "zero": false}, "axis": null}, "y2": {"field": "to"}, "x": {"datum": 1.39}}},
   {"data": {"name": "zones"},
    "mark": {"type": "point", "shape": "triangle-up", "filled": true, "size": 40, "color": "#000", "opacity": 1},
    "encoding": {"y": {"field": "from", "type": "quantitative", "scale": {"domain": [-0.5, 36.5], "reverse": true, "nice": false, "zero": false}, "axis": null}, "x": {"datum": 1.39}}},
   {"data": {"name": "zones"},
    "mark": {"type": "point", "shape": "triangle-down", "filled": true, "size": 40, "color": "#000", "opacity": 1},
    "encoding": {"y": {"field": "to", "type": "quantitative", "scale": {"domain": [-0.5, 36.5], "reverse": true, "nice": false, "zero": false}, "axis": null}, "x": {"datum": 1.39}}},
   {"data": {"name": "zones"},
    "transform": [{"fold": ["from","to"], "as": ["end","pos"]}],
    "mark": {"type": "text", "angle": 90, "font": "Liberation Serif", "fontSize": 22, "baseline": "middle", "align": "center", "color": "#000"},
    "encoding": {"y": {"field": "pos", "aggregate": "mean", "type": "quantitative", "scale": {"domain": [-0.5, 36.5], "reverse": true, "nice": false, "zero": false}, "axis": null}, "x": {"datum": 1.485}, "text": {"field": "zone", "type": "nominal"}}}
  ]
 }
]
}
